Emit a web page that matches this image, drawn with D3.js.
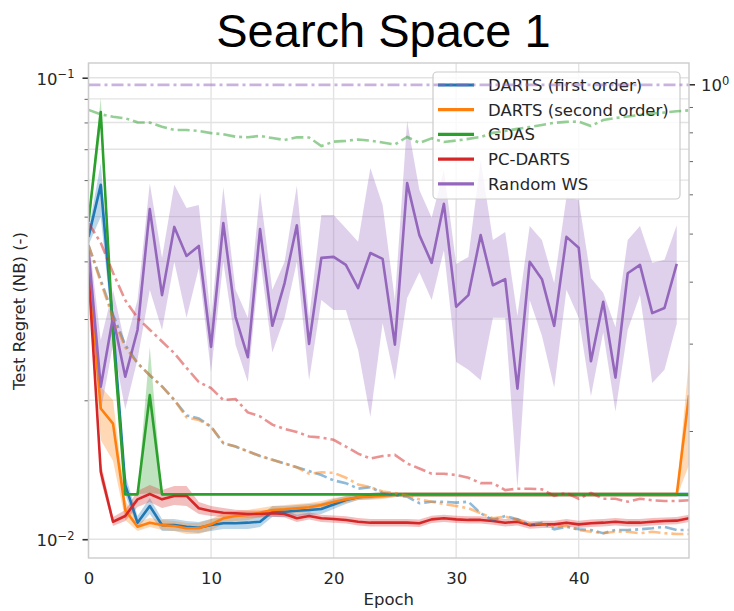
<!DOCTYPE html>
<html><head><meta charset="utf-8">
<script src="https://cdn.jsdelivr.net/npm/d3@7"></script>
<style>body{margin:0;background:#fff}svg{display:block}</style>
</head><body><svg id="c" width="734" height="611"></svg>
<script>
// ---------------- DATA ----------------
const epochs = [0,1,2,3,4,5,6,7,8,9,10,11,12,13,14,15,16,17,18,19,20,21,22,23,24,25,26,27,28,29,30,31,32,33,34,35,36,37,38,39,40,41,42,43,44,45,46,47,48,49];
const xTicks = [0,10,20,30,40];
const leftMajor = [0.01,0.1];
const leftMinor = [0.02,0.03,0.04,0.05,0.06,0.07,0.08,0.09];
const rightMajor = [1];
const rightMinor = [0.2,0.3,0.4,0.5,0.6,0.7,0.8,0.9];
const seriesNames = ["DARTS (first order)","DARTS (second order)","GDAS","PC-DARTS","Random WS"];

// Test regret (left axis)
const dartsFirstMean = [
0.0452,0.0586,0.0291,0.0131,0.01086,0.01180,0.01073,0.01073,0.01064,0.01059,
0.01073,0.01083,0.01083,0.01086,0.01091,0.01147,0.01147,0.01153,0.01157,0.01163,
0.01189,0.01216,0.01233,0.01241,0.01247,0.01249,0.01249,0.01249,0.01249,0.01249,
0.01249,0.01249,0.01249,0.01249,0.01249,0.01249,0.01249,0.01249,0.01249,0.01249,
0.01249,0.01249,0.01249,0.01249,0.01249,0.01249,0.01249,0.01249,0.01249,0.01249];
const dartsFirstUpper = [
0.0468,0.0653,0.0306,0.0138,0.01123,0.01228,0.01106,0.01106,0.01095,0.01090,
0.01106,0.01117,0.01117,0.01117,0.01123,0.01180,0.01180,0.01186,0.01192,0.01198,
0.01222,0.01241,0.01253,0.01259,0.01266,0.01266,0.01266,0.01266,0.01266,0.01266,
0.01266,0.01266,0.01266,0.01266,0.01266,0.01266,0.01266,0.01266,0.01266,0.01266,
0.01266,0.01266,0.01266,0.01266,0.01266,0.01266,0.01266,0.01266,0.01266,0.01266];
const dartsFirstLower = [
0.0434,0.0499,0.0277,0.01247,0.01058,0.01134,0.01042,0.01042,0.01037,0.01031,
0.01042,0.01052,0.01052,0.01052,0.01063,0.01117,0.01117,0.01123,0.01128,0.01134,
0.01163,0.01192,0.01216,0.01222,0.01228,0.01234,0.01234,0.01234,0.01234,0.01234,
0.01234,0.01234,0.01234,0.01234,0.01234,0.01234,0.01234,0.01234,0.01234,0.01234,
0.01234,0.01234,0.01234,0.01234,0.01234,0.01234,0.01234,0.01234,0.01234,0.01234];

const dartsSecondMean = [
0.0393,0.0192,0.0178,0.01157,0.01064,0.01086,0.01073,0.01068,0.01056,0.01056,
0.01077,0.01110,0.01123,0.01128,0.01141,0.01157,0.01161,0.01167,0.01173,0.01186,
0.01204,0.01220,0.01233,0.01236,0.01242,0.01247,0.01249,0.01249,0.01249,0.01249,
0.01249,0.01249,0.01249,0.01249,0.01249,0.01249,0.01249,0.01249,0.01249,0.01249,
0.01249,0.01249,0.01249,0.01249,0.01249,0.01249,0.01249,0.01249,0.01249,0.02053];
const dartsSecondUpper = [
0.0413,0.0214,0.0200,0.01216,0.01090,0.01111,0.01101,0.01095,0.01084,0.01084,
0.01106,0.01140,0.01151,0.01157,0.01169,0.01180,0.01186,0.01192,0.01198,0.01210,
0.01228,0.01241,0.01253,0.01259,0.01266,0.01266,0.01266,0.01266,0.01266,0.01266,
0.01266,0.01266,0.01266,0.01266,0.01266,0.01266,0.01266,0.01266,0.01266,0.01266,
0.01266,0.01266,0.01266,0.01266,0.01266,0.01266,0.01266,0.01266,0.01266,0.02445];
const dartsSecondLower = [
0.0374,0.0164,0.0148,0.01101,0.01042,0.01063,0.01047,0.01042,0.01026,0.01026,
0.01047,0.01079,0.01095,0.01101,0.01117,0.01134,0.01134,0.01140,0.01145,0.01163,
0.01180,0.01198,0.01216,0.01216,0.01222,0.01234,0.01234,0.01234,0.01234,0.01234,
0.01234,0.01234,0.01234,0.01234,0.01234,0.01234,0.01234,0.01234,0.01234,0.01234,
0.01234,0.01234,0.01234,0.01234,0.01234,0.01234,0.01234,0.01234,0.01234,0.01448];

const gdasMean = [
0.0487,0.0843,0.0277,0.01251,0.01251,0.02053,0.01251,0.01251,0.01251,0.01251,
0.01251,0.01251,0.01251,0.01251,0.01251,0.01251,0.01251,0.01251,0.01251,0.01251,
0.01251,0.01251,0.01251,0.01251,0.01251,0.01251,0.01251,0.01251,0.01251,0.01251,
0.01251,0.01251,0.01251,0.01251,0.01251,0.01251,0.01251,0.01251,0.01251,0.01251,
0.01251,0.01251,0.01251,0.01251,0.01251,0.01251,0.01251,0.01251,0.01251,0.01251];
const gdasUpper = [
0.0504,0.0904,0.0299,0.01251,0.01251,0.0261,0.01251,0.01251,0.01251,0.01251,
0.01251,0.01251,0.01251,0.01251,0.01251,0.01251,0.01251,0.01251,0.01251,0.01251,
0.01251,0.01251,0.01251,0.01251,0.01251,0.01251,0.01251,0.01251,0.01251,0.01251,
0.01251,0.01251,0.01251,0.01251,0.01251,0.01251,0.01251,0.01251,0.01251,0.01251,
0.01251,0.01251,0.01251,0.01251,0.01251,0.01251,0.01251,0.01251,0.01251,0.01251];
const gdasLower = [
0.0468,0.0778,0.0257,0.01251,0.01251,0.01259,0.01251,0.01251,0.01251,0.01251,
0.01251,0.01251,0.01251,0.01251,0.01251,0.01251,0.01251,0.01251,0.01251,0.01251,
0.01251,0.01251,0.01251,0.01251,0.01251,0.01251,0.01251,0.01251,0.01251,0.01251,
0.01251,0.01251,0.01251,0.01251,0.01251,0.01251,0.01251,0.01251,0.01251,0.01251,
0.01251,0.01251,0.01251,0.01251,0.01251,0.01251,0.01251,0.01251,0.01251,0.01251];

const pcdartsMean = [
0.0379,0.0140,0.01091,0.01123,0.01220,0.01253,0.01220,0.01241,0.01241,0.01167,
0.01151,0.01141,0.01138,0.01134,0.01134,0.01138,0.01134,0.01110,0.01123,0.01110,
0.01106,0.01101,0.01091,0.01086,0.01086,0.01086,0.01086,0.01083,0.01104,0.01110,
0.01104,0.01101,0.01101,0.01095,0.01086,0.01091,0.01073,0.01077,0.01077,0.01086,
0.01077,0.01083,0.01086,0.01091,0.01086,0.01086,0.01091,0.01095,0.01097,0.01110];
const pcdartsUpper = [
0.0393,0.0147,0.01117,0.01157,0.01272,0.0131,0.01278,0.01304,0.01304,0.01204,
0.01180,0.01169,0.01158,0.01154,0.01154,0.01158,0.01154,0.01130,0.01143,0.01130,
0.01126,0.01121,0.01111,0.01106,0.01106,0.01106,0.01106,0.01103,0.01124,0.01130,
0.01124,0.01121,0.01121,0.01115,0.01106,0.01111,0.01093,0.01097,0.01097,0.01106,
0.01097,0.01103,0.01106,0.01111,0.01106,0.01106,0.01111,0.01115,0.01117,0.01130];
const pcdartsLower = [
0.0364,0.0134,0.01068,0.01095,0.01174,0.01204,0.01169,0.01186,0.01180,0.01134,
0.01123,0.01117,0.01118,0.01114,0.01114,0.01118,0.01114,0.01090,0.01103,0.01090,
0.01086,0.01081,0.01071,0.01066,0.01066,0.01066,0.01066,0.01063,0.01084,0.01090,
0.01084,0.01081,0.01081,0.01075,0.01066,0.01071,0.01053,0.01057,0.01057,0.01066,
0.01057,0.01063,0.01066,0.01071,0.01066,0.01066,0.01071,0.01075,0.01077,0.01090];

const randomWSMean = [
0.0423,0.0214,0.0303,0.0225,0.0284,0.0519,0.0338,0.0475,0.0411,0.0432,
0.0261,0.0484,0.0303,0.0248,0.0470,0.0290,0.0359,0.0479,0.0265,0.0407,
0.0409,0.0393,0.0350,0.0417,0.0405,0.0264,0.0591,0.0456,0.0397,0.0533,
0.0319,0.0338,0.0456,0.0355,0.0366,0.0212,0.0399,0.0366,0.0290,0.0452,
0.0428,0.0243,0.0327,0.0224,0.0377,0.0393,0.0309,0.0317,0.0395];
const randomWSUpper = [
0.0456,0.0270,0.0347,0.0264,0.0330,0.0591,0.0407,0.0586,0.0522,0.0530,
0.0299,0.0580,0.0347,0.0302,0.0565,0.0347,0.0399,0.0583,0.0302,0.0504,
0.0504,0.0472,0.0441,0.0637,0.0530,0.0330,0.0806,0.0571,0.0497,0.0631,
0.0395,0.0409,0.0663,0.0445,0.0463,0.0305,0.0477,0.0445,0.0359,0.0551,
0.0543,0.0368,0.0342,0.0288,0.0445,0.0477,0.0397,0.0403,0.0479];
const randomWSLower = [
0.0399,0.0189,0.0264,0.0191,0.0245,0.0347,0.0284,0.0399,0.0302,0.0387,
0.0230,0.0399,0.0264,0.0219,0.0407,0.0254,0.0302,0.0399,0.0221,0.0330,
0.0314,0.0314,0.0257,0.0184,0.0294,0.0221,0.0333,0.0379,0.0330,0.0423,
0.0242,0.0233,0.0221,0.0302,0.0302,0.0129,0.0330,0.0276,0.0213,0.0347,
0.0302,0.0204,0.0281,0.0189,0.0284,0.0338,0.0218,0.0233,0.0293];

// One-shot validation error (right axis, dash-dot)
const dartsFirstOS = [
0.474,0.403,0.343,0.298,0.274,0.259,0.246,0.231,0.215,0.212,
0.204,0.189,0.186,0.182,0.178,0.175,0.172,0.169,0.166,0.163,
0.159,0.157,0.153,0.154,0.150,0.1486,0.1474,0.143,0.144,0.144,
0.1434,0.144,0.1365,0.1323,0.1348,0.1327,0.1292,0.1306,0.1267,0.1282,
0.1267,0.1263,0.1244,0.1263,0.1263,0.1267,0.1273,0.1282,0.1263,0.1263];
const dartsSecondOS = [
0.474,0.399,0.338,0.295,0.274,0.259,0.246,0.231,0.213,0.2105,
0.204,0.189,0.186,0.182,0.178,0.175,0.172,0.169,0.164,0.165,
0.1647,0.161,0.156,0.154,0.151,0.150,0.148,0.1456,0.144,0.1425,
0.1412,0.1397,0.1365,0.1334,0.1344,0.1323,0.1299,0.1299,0.1282,0.1287,
0.1263,0.1253,0.1244,0.1253,0.1253,0.1244,0.1253,0.1244,0.1240,0.1240];
const gdasOS = [
0.888,0.870,0.860,0.854,0.838,0.837,0.821,0.809,0.809,0.805,
0.797,0.793,0.784,0.782,0.787,0.779,0.772,0.782,0.781,0.751,
0.766,0.769,0.774,0.770,0.763,0.756,0.783,0.762,0.778,0.765,
0.770,0.776,0.783,0.798,0.805,0.813,0.820,0.828,0.836,0.840,
0.841,0.824,0.847,0.855,0.861,0.867,0.873,0.877,0.882,0.886];
const pcdartsOS = [
0.525,0.479,0.417,0.367,0.338,0.320,0.303,0.287,0.268,0.251,
0.244,0.231,0.232,0.218,0.214,0.206,0.202,0.199,0.195,0.194,
0.192,0.186,0.180,0.176,0.178,0.179,0.172,0.168,0.164,0.164,
0.163,0.161,0.157,0.157,0.152,0.153,0.153,0.1525,0.148,0.150,
0.146,0.150,0.146,0.146,0.144,0.146,0.145,0.1445,0.1445,0.145];
const randomWSOS = [
0.997,0.997,0.997,0.997,0.997,0.997,0.997,0.997,0.997,0.997,
0.997,0.997,0.997,0.997,0.997,0.997,0.997,0.997,0.997,0.997,
0.997,0.997,0.997,0.997,0.997,0.997,0.997,0.997,0.997,0.997,
0.997,0.997,0.997,0.997,0.997,0.997,0.997,0.997,0.997,0.997,
0.997,0.997,0.997,0.997,0.997,0.997,0.997,0.997,0.997,0.997];

// ---------------- CHART ----------------
const colors = ["#1f77b4","#ff7f0e","#2ca02c","#d62728","#9467bd"];
const series = [
  {mean:dartsFirstMean, up:dartsFirstUpper, lo:dartsFirstLower, os:dartsFirstOS},
  {mean:dartsSecondMean, up:dartsSecondUpper, lo:dartsSecondLower, os:dartsSecondOS},
  {mean:gdasMean, up:gdasUpper, lo:gdasLower, os:gdasOS},
  {mean:pcdartsMean, up:pcdartsUpper, lo:pcdartsLower, os:pcdartsOS},
  {mean:randomWSMean, up:randomWSUpper, lo:randomWSLower, os:randomWSOS}
];
const M = {left:88.5, right:689, top:63, bottom:558};
const FONT = "DejaVu Sans, sans-serif";
const TXT = "#262626";
const x = d3.scaleLinear().domain([0,49]).range([M.left,M.right]);
const yL = d3.scaleLog().domain([0.009105,0.10762]).range([M.bottom,M.top]);
const yR = d3.scaleLog().domain([0.1109,1.1038]).range([M.bottom,M.top]);

const svg = d3.select("#c");
svg.append("rect").attr("width",734).attr("height",611).attr("fill","#fff");
svg.append("defs").append("clipPath").attr("id","clip").append("rect")
  .attr("x",M.left).attr("y",M.top).attr("width",M.right-M.left).attr("height",M.bottom-M.top);

// title
svg.append("text").attr("x",383.5).attr("y",47).attr("text-anchor","middle")
  .attr("font-family","Liberation Sans, Arial, sans-serif").attr("font-size",47).attr("fill","#000")
  .text("Search Space 1");

// grid
const grid = svg.append("g");
xTicks.forEach(t => grid.append("line").attr("x1",x(t)).attr("x2",x(t)).attr("y1",M.top).attr("y2",M.bottom)
  .attr("stroke","#e3e3e3").attr("stroke-width",1.4));
leftMajor.concat(leftMinor).forEach(t => grid.append("line").attr("x1",M.left).attr("x2",M.right)
  .attr("y1",yL(t)).attr("y2",yL(t)).attr("stroke","#e3e3e3").attr("stroke-width",1.4));

// fills & solid lines (left axis)
const plot = svg.append("g").attr("clip-path","url(#clip)");
series.forEach((s,k) => {
  const area = d3.area().x((d,i)=>x(epochs[i])).y0((d,i)=>yL(s.lo[i])).y1((d,i)=>yL(s.up[i]));
  plot.append("path").datum(s.mean).attr("d",area).attr("fill",colors[k]).attr("fill-opacity",0.3).attr("stroke","none");
});
series.forEach((s,k) => {
  const line = d3.line().x((d,i)=>x(epochs[i])).y(d=>yL(d));
  plot.append("path").datum(s.mean).attr("d",line).attr("fill","none").attr("stroke",colors[k])
    .attr("stroke-width",2.6).attr("stroke-linejoin","round");
});

// left axis ticks
const supText = (sel, base, exp) => {
  sel.text(null);
  sel.append("tspan").text(base);
  sel.append("tspan").attr("font-size",11.5).attr("dy",-6.5).text(exp);
};
const axL = svg.append("g").attr("transform",`translate(${M.left},0)`)
  .call(d3.axisLeft(yL).tickValues(leftMinor).tickSize(4).tickFormat(()=>""));
axL.select(".domain").remove();
axL.selectAll("line").attr("stroke","#666").attr("stroke-width",1);
const axLM = svg.append("g").attr("transform",`translate(${M.left},0)`)
  .call(d3.axisLeft(yL).tickValues(leftMajor).tickSize(6).tickPadding(8).tickFormat(()=>""));
axLM.select(".domain").remove();
axLM.selectAll("line").attr("stroke","#333").attr("stroke-width",1.6);
axLM.selectAll("text").attr("font-family",FONT).attr("font-size",16.5).attr("fill",TXT).attr("dy","0.4em")
  .each(function(d){ supText(d3.select(this),"10", d===0.1 ? "\u22121" : "\u22122"); });

// right axis ticks
const axR = svg.append("g").attr("transform",`translate(${M.right},0)`)
  .call(d3.axisRight(yR).tickValues(rightMinor).tickSize(4).tickFormat(()=>""));
axR.select(".domain").remove();
axR.selectAll("line").attr("stroke","#666").attr("stroke-width",1);
const axRM = svg.append("g").attr("transform",`translate(${M.right},0)`)
  .call(d3.axisRight(yR).tickValues(rightMajor).tickSize(6).tickPadding(6).tickFormat(()=>""));
axRM.select(".domain").remove();
axRM.selectAll("line").attr("stroke","#333").attr("stroke-width",1.6);
axRM.selectAll("text").attr("font-family",FONT).attr("font-size",16.5).attr("fill",TXT).attr("dy","0.4em")
  .each(function(){ supText(d3.select(this),"10","0"); });

// x axis labels
const axX = svg.append("g").attr("transform",`translate(0,${M.bottom})`)
  .call(d3.axisBottom(x).tickValues(xTicks).tickSize(0).tickPadding(14).tickFormat(d3.format("d")));
axX.select(".domain").remove();
axX.selectAll("text").attr("font-family",FONT).attr("font-size",16.5).attr("fill",TXT);

// axis titles
svg.append("text").attr("x",(M.left+M.right)/2).attr("y",605).attr("text-anchor","middle")
  .attr("font-family",FONT).attr("font-size",16.5).attr("fill",TXT).text("Epoch");
svg.append("text").attr("transform","translate(25,311) rotate(-90)").attr("text-anchor","middle")
  .attr("font-family",FONT).attr("font-size",16.5).attr("fill",TXT).text("Test Regret (NB) (-)");

// legend
const lg = svg.append("g");
lg.append("rect").attr("x",433).attr("y",72).attr("width",247).attr("height",127).attr("rx",4)
  .attr("fill","#fff").attr("fill-opacity",0.8).attr("stroke","#cccccc").attr("stroke-width",1.2);
seriesNames.forEach((n,i) => {
  const yy = 85 + i*24.7;
  lg.append("line").attr("x1",438).attr("x2",474).attr("y1",yy).attr("y2",yy)
    .attr("stroke",colors[i]).attr("stroke-width",3.2);
  lg.append("text").attr("x",488).attr("y",yy+6).attr("font-family",FONT).attr("font-size",16.5)
    .attr("fill",TXT).text(n);
});

// dash-dot lines (right axis), above legend
const plot2 = svg.append("g").attr("clip-path","url(#clip)");
series.forEach((s,k) => {
  const line = d3.line().x((d,i)=>x(epochs[i])).y(d=>yR(d));
  plot2.append("path").datum(s.os).attr("d",line).attr("fill","none").attr("stroke",colors[k])
    .attr("stroke-opacity",0.5).attr("stroke-width",2.6).attr("stroke-dasharray","12,4,3,4");
});

// spines
svg.append("rect").attr("x",M.left).attr("y",M.top).attr("width",M.right-M.left).attr("height",M.bottom-M.top)
  .attr("fill","none").attr("stroke","#cccccc").attr("stroke-width",1.4);
</script></body></html>
